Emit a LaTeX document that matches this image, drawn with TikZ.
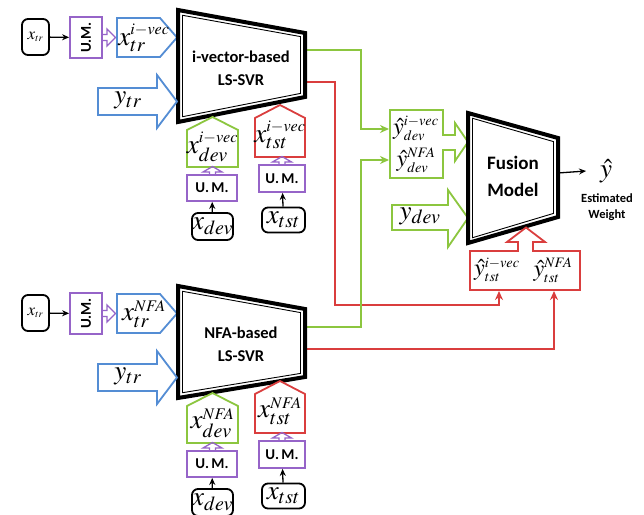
\documentclass[tikz,border=0pt]{standalone}
\usepackage{mathptmx}
\usepackage{fontspec}
\setmainfont{Carlito}
\usetikzlibrary{arrows.meta}
\definecolor{cgreen}{RGB}{140,198,63}
\definecolor{cred}{RGB}{218,62,62}
\definecolor{cblue}{RGB}{84,141,212}
\definecolor{cpurple}{RGB}{150,100,200}
\newcommand{\mbig}{\fontsize{27}{28}\selectfont}
\newcommand{\mmid}{\fontsize{24}{25}\selectfont}
\newcommand{\msmall}{\fontsize{17}{18}\selectfont}
\tikzset{
  ol/.style={line width=1.8pt, line join=miter},
  gsh/.style={ol, draw=cgreen, fill=white},
  rsh/.style={ol, draw=cred, fill=white},
  bsh/.style={ol, draw=cblue, fill=white},
  psh/.style={ol, draw=cpurple, fill=white},
  notch/.style={line width=1.3pt, draw=cpurple, line join=miter},
  lbl/.style={inner sep=0pt, outer sep=0pt},
  rbox/.style={draw=black, line width=1.8pt, rounded corners=6pt, inner sep=0pt},
  umbox/.style={draw=cpurple, line width=1.8pt, inner sep=0pt, font=\bfseries\fontsize{15}{15}\selectfont},
  title/.style={inner sep=0pt, font=\bfseries\fontsize{16.5}{17}\selectfont},
  ftitle/.style={inner sep=0pt, font=\bfseries\fontsize{19}{20}\selectfont},
  blkarr/.style={line width=1.3pt, -{Stealth[length=7pt,width=6pt]}},
  gconn/.style={line width=1.8pt, draw=cgreen, -{Stealth[length=9pt,width=8pt]}},
  rconn/.style={line width=1.8pt, draw=cred, -{Stealth[length=9pt,width=8pt]}},
}
\newcommand{\trapz}[6]{%
  \draw[line width=4pt, line join=miter, fill=white] (#1,#2) -- (#4,#5) -- (#4,#6) -- (#1,#3) -- cycle;
  \draw[line width=0.9pt, line join=miter] (#1+4.5,#2+5.3) -- (#4-4.5,#5+3.6) -- (#4-4.5,#6-3.6) -- (#1+4.5,#3-5.3) -- cycle;
}
\newcommand{\branch}[6]{%
\begin{scope}[yshift=-#2pt]
  % x_tr
  \node[rbox, minimum width=27pt, minimum height=36pt] (#1xtr) at (35.5,37) {\msmall$x_{\scriptscriptstyle tr}$};
  \node[umbox, rotate=90, minimum width=41pt, minimum height=32pt] (#1umtr) at (86,37.5) {U.M.};
  \draw[blkarr] (#1xtr) -- (#1umtr);
  \draw[notch] (102,34.5) -- (107,34.5) -- (107,29) -- (115.5,37.5) -- (107,46) -- (107,40.5) -- (102,40.5);
  \draw[bsh] (117,18) -- (160,18) -- (177,37.5) -- (160,57) -- (117,57) -- cycle;
  \node[lbl] (#1xtrv) at (144,38) {\mbig$x^{\scriptscriptstyle #3}_{\scriptstyle tr}$};
  % trapezoid
  \trapz{178}{10}{122}{305}{33}{#6}
  \node[title] (#1t1) at (241,57) {#4};
  \node[title] (#1t2) at (241,80) {LS-SVR};
  % y_tr
  \draw[bsh] (98,88) -- (157,88) -- (157,75) -- (177,101.5) -- (157,128) -- (157,115) -- (98,115) -- cycle;
  \node[lbl] (#1ytr) at (128,100) {\mbig$y_{\scriptstyle tr}$};
  % x_dev pentagon
  \draw[gsh] (187,130) -- (212.5,117) -- (238,130) -- (238,167) -- (187,167) -- cycle;
  \node[lbl] (#1xdevv) at (212.5,147) {\mbig$x^{\scriptscriptstyle #3}_{\scriptstyle dev}$};
  % x_tst pentagon
  \draw[rsh] (255,118) -- (280,105) -- (305,118) -- (305,157) -- (255,157) -- cycle;
  \node[lbl] (#1xtstv) at (280,135) {\mbig$x^{\scriptscriptstyle #3}_{\scriptstyle tst}$};
  % U.M. boxes
  \node[umbox, minimum width=50pt, minimum height=26pt] (#1umd) at (212,188) {U.\,M.};
  \node[umbox, minimum width=46pt, minimum height=27pt] (#1umt) at (282,178.5) {U.\,M.};
  \draw[notch] (209.5,175) -- (209.5,172) -- (203,172) -- (212.5,166.5) -- (222,172) -- (215.5,172) -- (215.5,175);
  \draw[notch] (279,165) -- (279,162) -- (272.5,162) -- (282,156.5) -- (291.5,162) -- (285,162) -- (285,165);
  % sources
  \node[rbox, minimum width=41pt, minimum height=27pt] (#1xdev) at (212.5,226.5) {\mbig$x_{\scriptstyle dev}$};
  \node[rbox, minimum width=43pt, minimum height=25pt] (#1xtst) at (283.5,220) {\mbig$x_{\scriptstyle tst}$};
  \draw[blkarr] (#1xdev) -- (#1umd);
  \draw[blkarr] (#1xtst) -- (#1umt);
\end{scope}}

\begin{document}
\begin{tikzpicture}[x=1pt,y=-1pt]
\useasboundingbox (0,0) rectangle (644,514);
\fill[white] (0,0) rectangle (644,514);

\coordinate (tg) at (305,50);
\coordinate (tr) at (305,82);
\coordinate (bg) at (305,327);
\coordinate (br) at (305,349);
\coordinate (gin1) at (389,129);
\coordinate (gin2) at (389,160);
\coordinate (rin1) at (499,291);
\coordinate (rin2) at (554,291);

% connectors (under shapes)
\draw[rconn] (tr) -- ++(30,0) -- ++(0,223) -| (rin1);
\draw[gconn] (bg) -- ++(56,0) |- (gin2);
\draw[gconn] (tg) -- ++(56,0) |- (gin1);
\draw[rconn] (br) -| (rin2);

\branch{a}{0}{i{-}vec}{i-vector-based}{x}{97}
\branch{b}{276}{NFA}{NFA-based}{x}{101}

% y-hat dev box
\draw[gsh] (390,110) -- (443,110) -- (443,135) -- (455,135) -- (455,123) -- (468,142) -- (455,161) -- (455,150) -- (443,150) -- (443,178) -- (390,178) -- cycle;
\node[lbl] (ydevi) at (416,128) {\mmid$\hat{y}^{\scriptscriptstyle i{-}vec}_{\scriptscriptstyle dev}$};
\node[lbl] (ydevn) at (416,160) {\mmid$\hat{y}^{\scriptscriptstyle NFA}_{\scriptscriptstyle dev}$};

% y_dev arrow
\draw[gsh] (392,205) -- (448,205) -- (448,190) -- (468,218) -- (448,247) -- (448,230) -- (392,230) -- cycle;
\node[lbl] (ydev) at (420,216) {\mbig$y_{\scriptstyle dev}$};

% Fusion model
\trapz{468}{113}{243}{558}{138}{217}
\node[ftitle] (fus1) at (513,163) {Fusion};
\node[ftitle] (fus2) at (513,190) {Model};
\coordinate (fout) at (558,173);

% y-hat tst box
\draw[rsh] (470,251) -- (518,251) -- (518,242) -- (507,242) -- (526,227.5) -- (545,242) -- (533,242) -- (533,251) -- (580,251) -- (580,290) -- (470,290) -- cycle;
\node[lbl] (ytsti) at (497,270) {\mmid$\hat{y}^{\scriptscriptstyle i{-}vec}_{\scriptscriptstyle tst}$};
\node[lbl] (ytstn) at (553,270) {\mmid$\hat{y}^{\scriptscriptstyle NFA}_{\scriptscriptstyle tst}$};

% output
\node[lbl] (yhat) at (606,171) {\mbig$\hat{y}$};
\node[inner sep=0pt, font=\bfseries\fontsize{12.5}{13}\selectfont] (est) at (607,198) {Estimated};
\node[inner sep=0pt, font=\bfseries\fontsize{12.5}{13}\selectfont] (wgt) at (607,215) {Weight};
\draw[blkarr] (fout) -- ([xshift=-14pt]yhat.west);
\end{tikzpicture}
\end{document}
